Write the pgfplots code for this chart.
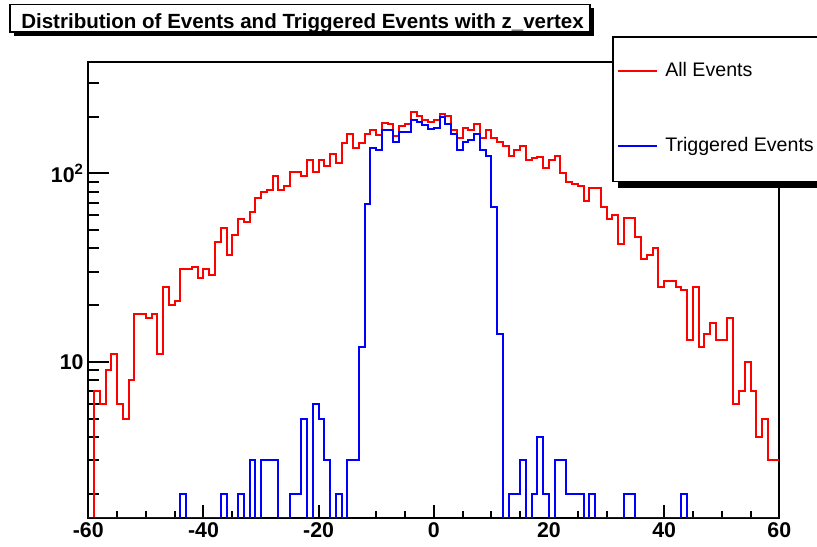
\documentclass[border=0pt]{standalone}
\usepackage{pgfplots}
\pgfplotsset{compat=1.18}
\usepackage{pgfplotstable}
\usepackage{fontspec}
\setmainfont{Liberation Sans}

% z_vertex histograms, 1 cm bins; empty bins written as 1 (below ymin)
\pgfplotstableread{
x all trig
-60 1 1
-59 7 1
-58 6 1
-57 9 1
-56 11 1
-55 6 1
-54 5 1
-53 8 1
-52 18 1
-51 18 1
-50 17 1
-49 18 1
-48 11 1
-47 25 1
-46 20 1
-45 21 1
-44 31 2
-43 31 1
-42 32 1
-41 28 1
-40 31 1
-39 29 1
-38 43 1
-37 51 2
-36 37 1
-35 47 1
-34 57 2
-33 55 1
-32 62 3
-31 74 1
-30 80 3
-29 82 3
-28 97 3
-27 82 1
-26 86 1
-25 102 2
-24 102 2
-23 97 5
-22 118 1
-21 102 6
-20 118 5
-19 110 3
-18 127 1
-17 113 2
-16 144 1
-15 162 3
-14 137 3
-13 144 12
-12 162 69
-11 170 137
-10 160 133
-9 186 170
-8 183 170
-7 158 147
-6 178 166
-5 183 166
-4 211 192
-3 202 188
-2 192 180
-1 188 172
0 192 175
1 206 198
2 202 183
3 170 162
4 154 133
5 175 147
6 170 150
7 183 162
8 154 133
9 170 124
10 154 66
11 147 14
12 140 1
13 124 2
14 133 2
15 140 3
16 118 1
17 120 2
18 122 4
19 107 2
20 118 1
21 124 3
22 100 3
23 90 2
24 88 2
25 86 2
26 71 1
27 84 2
28 84 1
29 66 1
30 57 1
31 60 1
32 42 1
33 58 2
34 58 2
35 46 1
36 35 1
37 37 1
38 40 1
39 25 1
40 27 1
41 27 1
42 25 1
43 24 2
44 13 1
45 25 1
46 12 1
47 14 1
48 16 1
49 13 1
50 13 1
51 17 1
52 6 1
53 7 1
54 10 1
55 7 1
56 4 1
57 5 1
58 3 1
59 3 1
60 3 1
}\zvtx

\definecolor{rootred}{RGB}{255,0,0}
\definecolor{rootblue}{RGB}{0,0,255}

\begin{document}
\begin{tikzpicture}
\path[use as bounding box] (0,0) rectangle (612.75pt,409.5pt);
\begin{axis}[
    at={(66.225pt,21.225pt)}, anchor=south west,
    scale only axis,
    width=518.25pt, height=342pt,
    xmin=-60, xmax=60,
    ymode=log, ymin=1.49, ymax=391,
    axis line style={line width=1.5pt},
    tick align=inside,
    xtick pos=bottom, ytick pos=left,
    xtick={-60,-40,-20,0,20,40,60},
    xticklabels={-60,-40,-20,0,20,40,60},
    minor x tick num=3,
    ytick={10,100},
    yticklabels={10,10\textsuperscript{2}},
    minor ytick={2,3,4,5,6,7,8,9,20,30,40,50,60,70,80,90,200,300},
    tick style={black, line width=1.5pt},
    xtick style={/pgfplots/major tick length=9.5pt,/pgfplots/minor tick length=5pt},
    ytick style={/pgfplots/major tick length=15.5pt,/pgfplots/minor tick length=8pt},
    ticklabel style={font=\fontsize{16}{16}\selectfont\bfseries},
]
% empty bins are drawn on the lower frame edge, as ROOT does
\addplot[const plot, rootred, line width=1.5pt]
    table[x=x, y expr={max(\thisrow{all},1.49)}] {\zvtx};
\addplot[const plot, rootblue, line width=1.5pt]
    table[x=x, y expr={max(\thisrow{trig},1.49)}] {\zvtx};
\end{axis}

\begin{scope}[x=0.75pt, y=-0.75pt, yshift=409.5pt]
  % title box
  \fill[black] (14,8) rectangle (594,36);
  \filldraw[fill=white, draw=black, line width=0.9pt] (10,4.5) rectangle (590,32);
  \node[anchor=base west, inner sep=0pt, font=\fontsize{15.4}{15.4}\selectfont\bfseries]
    at (21,28.3) {Distribution of Events and Triggered Events with z\_vertex};
  % legend
  \fill[black] (618,176) rectangle (840,188);
  \filldraw[fill=white, draw=black, line width=1.2pt] (612.7,37.3) rectangle (840,181.7);
  \draw[draw=rootred, line width=1.5pt] (618,71) -- (657,71);
  \node[anchor=base west, inner sep=0pt, font=\fontsize{14.7}{14.7}\selectfont]
    at (665,76.7) {All Events};
  \draw[draw=rootblue, line width=1.5pt] (618,145.7) -- (657,145.7);
  \node[anchor=base west, inner sep=0pt, font=\fontsize{14.7}{14.7}\selectfont]
    at (665,151.7) {Triggered Events};
\end{scope}
\end{tikzpicture}
\end{document}
